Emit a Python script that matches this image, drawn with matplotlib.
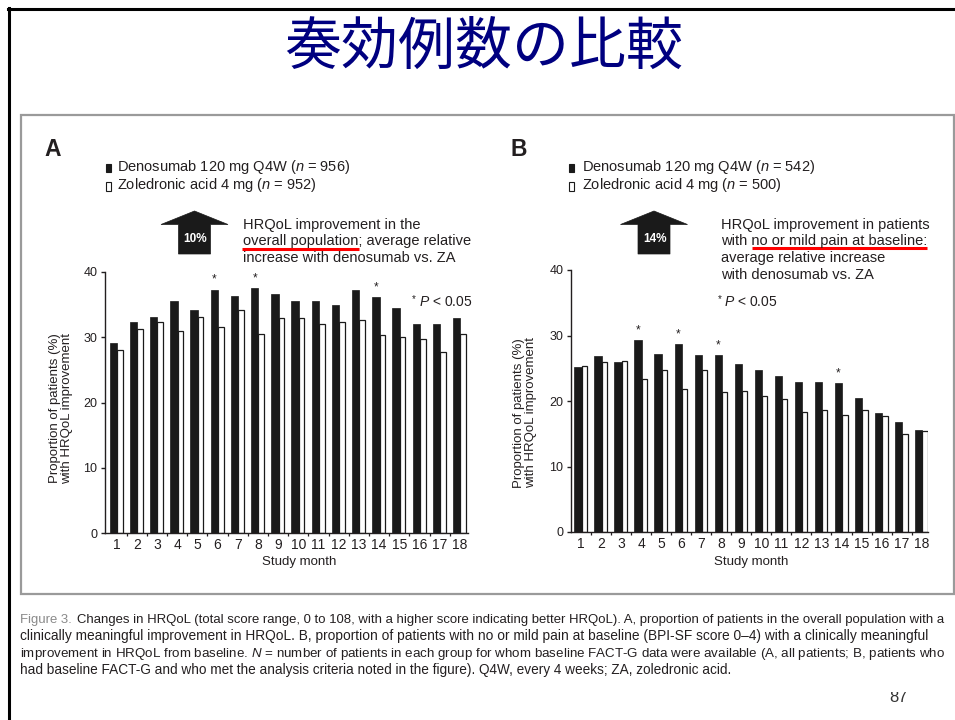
import matplotlib
matplotlib.use("Agg")
import matplotlib.pyplot as plt
from matplotlib import font_manager
from matplotlib.patches import Polygon, Rectangle
from matplotlib.lines import Line2D
from matplotlib.transforms import Bbox, TransformedBbox
import numpy as np

# ---------------- data ----------------
months = list(range(1, 19))
deno_all = [29.1, 32.3, 33.1, 35.5, 34.1, 37.3, 36.3, 37.5, 36.7,
            35.5, 35.5, 34.9, 37.3, 36.1, 34.5, 32.1, 32.1, 32.9]
za_all = [28.1, 31.3, 32.3, 30.9, 33.1, 31.5, 34.1, 30.5, 33.0,
          32.9, 32.1, 32.3, 32.7, 30.3, 30.1, 29.8, 27.7, 30.5]
deno_pain = [25.2, 26.8, 25.9, 29.3, 27.2, 28.7, 27.0, 27.0, 25.6,
             24.8, 23.8, 22.9, 22.9, 22.7, 20.5, 18.1, 16.8, 15.6]
za_pain = [25.4, 25.9, 26.1, 23.4, 24.8, 21.8, 24.8, 21.3, 21.6,
           20.8, 20.3, 18.3, 18.7, 17.8, 18.7, 17.7, 15.0, 15.4]
sig_all = [6, 8, 14]
sig_pain = [4, 6, 8, 14]
yticks = [0, 10, 20, 30, 40]

title = "奏効例数の比較"
legend_a = ["Denosumab 120 mg Q4W ($n$ = 956)", "Zoledronic acid 4 mg ($n$ = 952)"]
legend_b = ["Denosumab 120 mg Q4W ($n$ = 542)", "Zoledronic acid 4 mg ($n$ = 500)"]
note_a = ["HRQoL improvement in the",
          "overall population; average relative",
          "increase with denosumab vs. ZA"]
note_b = ["HRQoL improvement in patients",
          "with no or mild pain at baseline:",
          "average relative increase",
          "with denosumab vs. ZA"]
gain_a = "10%"
gain_b = "14%"
ylabel = "Proportion of patients (%)\nwith HRQoL improvement"
xlabel = "Study month"
caption_head = "Figure 3."
caption = [
    "Changes in HRQoL (total score range, 0 to 108, with a higher score indicating better HRQoL). A, proportion of patients in the overall population with a",
    "clinically meaningful improvement in HRQoL. B, proportion of patients with no or mild pain at baseline (BPI-SF score 0\u20134) with a clinically meaningful",
    "improvement in HRQoL from baseline. $N$ = number of patients in each group for whom baseline FACT-G data were available (A, all patients; B, patients who",
    "had baseline FACT-G and who met the analysis criteria noted in the figure). Q4W, every 4 weeks; ZA, zoledronic acid.",
]
page_number = "87"

# ---------------- style ----------------
plt.rcParams['font.family'] = ['Liberation Sans', 'DejaVu Sans']
plt.rcParams['mathtext.fontset'] = 'custom'
plt.rcParams['mathtext.rm'] = 'Liberation Sans'
plt.rcParams['mathtext.it'] = 'Liberation Sans:italic'
INK = '#231f20'
BAR = '#1a1a1a'

try:
    font_manager.findfont('Liberation Sans Narrow', fallback_to_default=False)
    cap_family = ['Liberation Sans Narrow', 'DejaVu Sans']
except Exception:
    cap_family = ['Liberation Sans', 'DejaVu Sans']

W, H = 955, 720
fig = plt.figure(figsize=(W / 100, H / 100), dpi=100)
fig.patch.set_facecolor('white')


def fx(x):
    return x / W


def fy(y):
    return 1 - y / H


# slide frame
fig.add_artist(Line2D([fx(8), fx(955)], [fy(8.5), fy(8.5)], color='black', lw=2.2))
fig.add_artist(Line2D([fx(8.5), fx(8.5)], [fy(8), fy(720)], color='black', lw=2.2))
fig.add_artist(Rectangle((fx(21), fy(594)), fx(954) - fx(21), (594 - 115) / H,
                         fill=False, edgecolor='#9a9a9a', lw=1.6))

# title
fig.text(fx(484), fy(48), title, ha='center', va='center', fontsize=41,
         color='#000080', family=['Noto Sans CJK JP', 'DejaVu Sans'])


def panel(box, deno, za, sig, xlim):
    left, bottom, right, top = box
    ax = fig.add_axes([fx(left), fy(bottom), fx(right) - fx(left), (bottom - top) / H])
    m = np.array(months, dtype=float)
    ax.bar(m - 0.16, deno, width=0.36, color=BAR, edgecolor=BAR, lw=0.5)
    ax.bar(m + 0.16, za, width=0.28, color='white', edgecolor=BAR, lw=0.9)
    for s in sig:
        i = months.index(s)
        ax.text(s - 0.16, deno[i] + 0.6, '*', ha='center', va='bottom',
                fontsize=8.5, color=INK)
    ax.set_xlim(*xlim)
    ax.set_ylim(0, 40)
    for sp in ('top', 'right'):
        ax.spines[sp].set_visible(False)
    for sp in ('left', 'bottom'):
        ax.spines[sp].set_linewidth(1.0)
        ax.spines[sp].set_color(INK)
    ax.set_yticks(yticks)
    ax.set_xticks(months)
    ax.set_xticks(np.arange(1.5, 18, 1.0), minor=True)
    ax.tick_params(axis='y', length=3, width=1, labelsize=9, pad=2.5,
                   colors=INK)
    ax.tick_params(axis='x', which='major', length=0, labelsize=10, pad=3.5,
                   colors=INK)
    ax.tick_params(axis='x', which='minor', length=2.5, width=0.9, colors=INK)
    ax.patch.set_alpha(0)
    return ax


ax_a = panel((105, 533, 468, 272), deno_all, za_all, sig_all, (0.43, 18.4))
ax_b = panel((571, 532, 928, 270), deno_pain, za_pain, sig_pain, (0.49, 18.32))


def decorations(letter, lx, ly, legend, mx, tx, arrow_x, gain, note, nx,
                red, star_x, xl_x, yl_x, yl_y):
    fig.text(fx(lx), fy(ly), letter, ha='center', va='center', fontsize=16.5,
             fontweight='bold', color=INK)
    # legend
    for k, (label, y_base) in enumerate(zip(legend, (171, 189.5))):
        face = BAR if k == 0 else 'white'
        fig.add_artist(Rectangle((fx(mx), fy(y_base + 1)), 5 / W, 8.5 / H,
                                 facecolor=face, edgecolor=BAR, lw=0.8))
        fig.text(fx(tx), fy(y_base), label, ha='left', va='baseline',
                 fontsize=10.5, color=INK)
    # arrow
    c = arrow_x
    pts = [(c, 211), (c + 33.5, 224.5), (c + 16, 224.5), (c + 16, 254),
           (c - 16, 254), (c - 16, 224.5), (c - 33.5, 224.5)]
    fig.add_artist(Polygon([(fx(x), fy(y)) for x, y in pts], closed=True,
                           facecolor=BAR, edgecolor=BAR, lw=0.5))
    fig.text(fx(c + 0.5), fy(239), gain, ha='center', va='center',
             fontsize=8.5, fontweight='bold', color='white')
    # note text
    for k, line in enumerate(note):
        fig.text(fx(nx), fy(228.5 + 16.8 * k), line, ha='left', va='baseline',
                 fontsize=10.5, color=INK)
    x0, x1, yr = red
    fig.add_artist(Line2D([fx(x0), fx(x1)], [fy(yr), fy(yr)], color='#ff0000',
                          lw=2.2, solid_capstyle='butt'))
    # significance key
    fig.text(fx(star_x), fy(302), '*', ha='left', va='baseline', fontsize=7,
             color=INK)
    fig.text(fx(star_x + 6.5), fy(306.5), '$P$ < 0.05', ha='left',
             va='baseline', fontsize=10, color=INK)
    # axis titles
    fig.text(fx(xl_x), fy(562.5), xlabel, ha='center', va='center',
             fontsize=9.5, color=INK)
    fig.text(fx(yl_x), fy(yl_y), ylabel, ha='center', va='center',
             rotation=90, fontsize=9.5, color=INK, linespacing=1.05,
             multialignment='center')


decorations('A', 53, 149, legend_a, 105.5, 117, 194.5, gain_a, note_a, 242.5,
            (241.5, 358.5, 249), 412, 299, 61, 408)
decorations('B', 519, 150, legend_b, 568.5, 581.5, 654, gain_b, note_b, 721,
            (752, 927, 248), 717.5, 751, 525, 413)

# caption: each line sized to span its own width
fig.canvas.draw()
r = fig.canvas.get_renderer()


def text_width(s, size):
    t = fig.text(0, 0, s, fontsize=size, family=cap_family)
    w = t.get_window_extent(renderer=r).width
    t.remove()
    return w


cap_left = 20
cap_right = [951, 927, 947, 735]
base = 9.0
gap = 5
for k, line in enumerate(caption):
    y = fy(623.5 + 16.8 * k)
    if k == 0:
        wh = text_width(caption_head, base) + gap * base / base
        wl = text_width(line, base)
        size = base * (cap_right[k] - cap_left - gap) / (text_width(caption_head, base) + wl)
        head = fig.text(fx(cap_left), y, caption_head, ha='left', va='baseline',
                        fontsize=size, family=cap_family, color='#8a8a8a')
        x0 = cap_left + head.get_window_extent(renderer=r).width + gap
    else:
        size = base * (cap_right[k] - cap_left) / text_width(line, base)
        x0 = cap_left
    fig.text(fx(x0), y, line, ha='left', va='baseline', fontsize=size,
             family=cap_family, color=INK)

# page number (upper part hidden behind the figure panel)
pn = fig.text(fx(898), fy(702), page_number, ha='center', va='baseline',
              fontsize=12, color='#333333')
pn.set_clip_box(TransformedBbox(Bbox([[fx(870), fy(720)], [fx(930), fy(692)]]),
                                fig.transFigure))
pn.set_clip_on(True)

fig.savefig('out.png', dpi=100, facecolor='white')
